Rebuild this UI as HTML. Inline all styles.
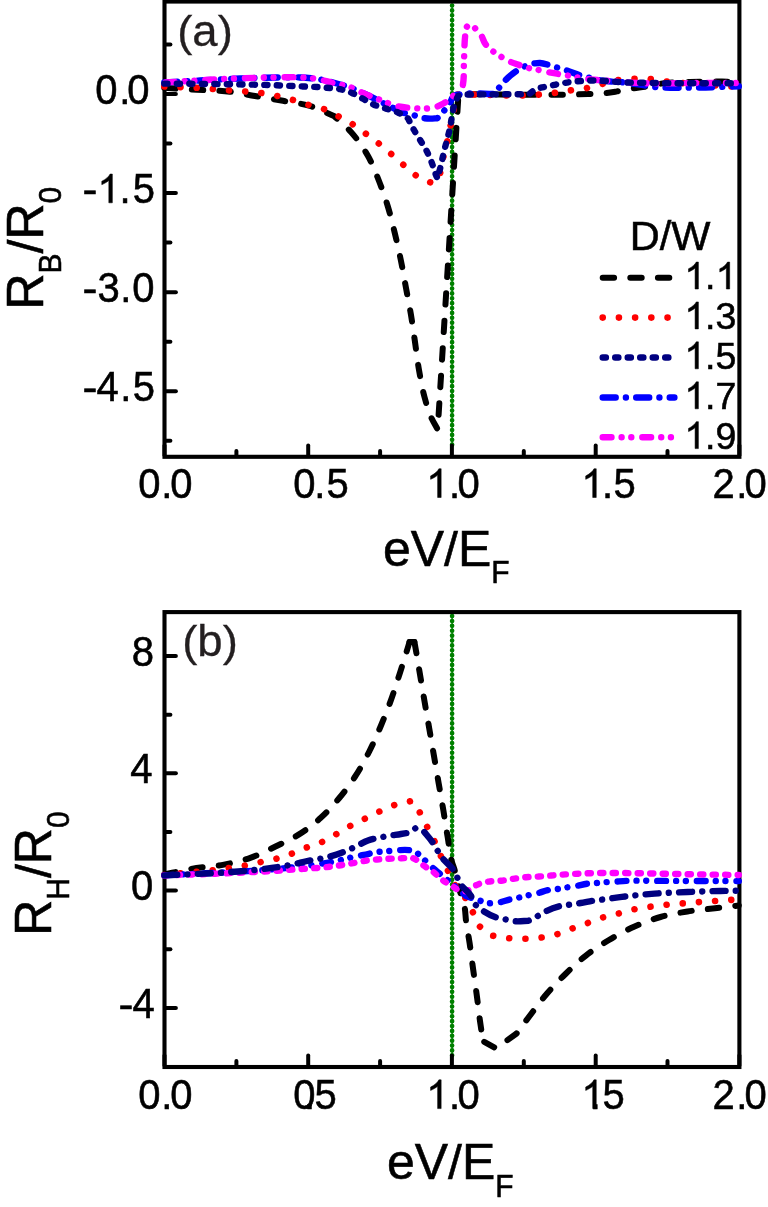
<!DOCTYPE html>
<html><head><meta charset="utf-8"><title>chart</title>
<style>html,body{margin:0;padding:0;background:#fff;}svg{display:block;}text{font-family:"Liberation Sans",sans-serif;}</style></head><body>
<svg width="768" height="1207" viewBox="0 0 768 1207" style="will-change:transform">
<rect width="768" height="1207" fill="#fff"/>
<path d="M452.1 3.5 L452.1 445.3" stroke="#008000" stroke-width="1.4" fill="none"/>
<path d="M452.1 5.5 L452.1 445.3" stroke="#008000" stroke-width="4.7" stroke-linecap="round" stroke-dasharray="0.01 4.87" fill="none"/>
<rect x="164.50" y="1.55" width="574.90" height="455.25" fill="none" stroke="#000" stroke-width="4.1"/>
<path d="M166.0 94.0 H175.9" stroke="#000" stroke-width="4.0" stroke-linecap="round"/>
<path d="M166.0 193.1 H175.9" stroke="#000" stroke-width="4.0" stroke-linecap="round"/>
<path d="M166.0 292.2 H175.9" stroke="#000" stroke-width="4.0" stroke-linecap="round"/>
<path d="M166.0 391.2 H175.9" stroke="#000" stroke-width="4.0" stroke-linecap="round"/>
<path d="M166.0 44.5 H170.4" stroke="#000" stroke-width="4.0" stroke-linecap="round"/>
<path d="M166.0 143.6 H170.4" stroke="#000" stroke-width="4.0" stroke-linecap="round"/>
<path d="M166.0 242.6 H170.4" stroke="#000" stroke-width="4.0" stroke-linecap="round"/>
<path d="M166.0 341.7 H170.4" stroke="#000" stroke-width="4.0" stroke-linecap="round"/>
<path d="M166.0 440.7 H170.4" stroke="#000" stroke-width="4.0" stroke-linecap="round"/>
<path d="M164.5 455.3 V445.4" stroke="#000" stroke-width="4.0" stroke-linecap="round"/>
<path d="M236.4 455.3 V450.9" stroke="#000" stroke-width="4.0" stroke-linecap="round"/>
<path d="M308.2 455.3 V445.4" stroke="#000" stroke-width="4.0" stroke-linecap="round"/>
<path d="M380.1 455.3 V450.9" stroke="#000" stroke-width="4.0" stroke-linecap="round"/>
<path d="M451.9 455.3 V445.4" stroke="#000" stroke-width="4.0" stroke-linecap="round"/>
<path d="M523.8 455.3 V450.9" stroke="#000" stroke-width="4.0" stroke-linecap="round"/>
<path d="M595.7 455.3 V445.4" stroke="#000" stroke-width="4.0" stroke-linecap="round"/>
<path d="M667.5 455.3 V450.9" stroke="#000" stroke-width="4.0" stroke-linecap="round"/>
<path d="M739.4 455.3 V445.4" stroke="#000" stroke-width="4.0" stroke-linecap="round"/>
<path d="M164.30 87.80 C173.20 88.37 182.10 88.96 191.00 89.50 C204.00 90.29 217.08 90.07 230.00 91.70 C238.39 92.76 246.67 94.57 255.00 96.00 C264.33 97.60 273.68 99.10 283.00 100.80 C292.02 102.44 301.23 103.33 310.00 106.00 C318.29 108.52 326.00 112.67 334.00 116.00 C339.67 121.33 345.83 126.19 351.00 132.00 C357.52 139.32 363.20 147.45 368.00 156.00 C372.46 163.94 375.67 172.53 379.00 181.00 C382.35 189.54 385.34 198.22 388.00 207.00 C390.69 215.90 392.83 224.96 395.00 234.00 C397.16 242.96 399.16 251.97 401.00 261.00 C402.83 269.97 404.33 279.00 406.00 288.00 C407.67 297.00 409.50 305.97 411.00 315.00 C412.49 323.97 413.69 333.00 415.00 342.00 C416.36 351.33 417.39 360.71 419.00 370.00 C420.57 379.05 422.09 388.14 424.50 397.00 C426.34 403.76 428.14 410.60 431.00 417.00 C432.93 421.32 435.47 425.33 437.70 429.50 C441.67 365.53 445.63 301.57 449.60 237.60 C452.56 189.83 455.53 142.07 458.50 94.30 C501.67 94.20 544.87 95.76 588.00 94.00 C593.80 93.76 599.63 93.84 605.40 93.20 C609.29 92.77 613.14 92.06 617.00 91.40 C621.68 90.59 626.31 89.49 631.00 88.70 C636.64 87.74 642.37 87.31 648.00 86.30 C652.02 85.58 655.97 84.46 660.00 83.80 C669.88 82.17 679.99 82.39 690.00 82.00 C700.66 81.59 711.33 81.35 722.00 81.50 C727.60 81.58 733.20 81.83 738.80 82.00" fill="none" stroke="#000000" stroke-width="6.0" stroke-dasharray="11.4 16.2" stroke-dashoffset="0" stroke-linecap="round" stroke-linejoin="round"/>
<path d="M164.30 86.50 C169.87 86.73 175.43 86.98 181.00 87.20 C186.17 87.41 191.34 87.52 196.50 87.80 C202.14 88.11 207.77 88.55 213.40 89.00 C218.60 89.42 223.80 89.95 229.00 90.40 C239.83 91.34 250.75 91.38 261.50 93.00 C272.14 94.60 282.65 97.09 293.00 100.00 C298.38 101.51 303.64 103.41 309.00 105.00 C314.18 106.54 319.56 107.45 324.60 109.40 C329.49 111.29 334.07 113.94 338.70 116.40 C343.68 119.05 348.66 121.74 353.40 124.80 C357.64 127.53 361.64 130.61 365.70 133.60 C369.98 136.74 374.25 139.89 378.40 143.20 C382.41 146.40 386.32 149.74 390.20 153.10 C394.29 156.64 398.22 160.35 402.30 163.90 C406.62 167.66 410.60 171.88 415.40 175.00 C420.12 178.07 425.08 181.27 430.60 182.40 C432.05 182.70 433.53 182.80 435.00 183.00 C436.47 180.33 438.21 177.80 439.40 175.00 C441.53 169.97 441.65 164.31 442.90 159.00 C444.06 154.08 445.46 149.22 446.60 144.30 C447.85 138.89 448.85 133.43 450.00 128.00 C451.12 122.70 452.46 117.44 453.40 112.10 C454.16 107.75 453.98 103.21 455.30 99.00 C455.78 97.47 456.43 96.00 457.00 94.50 C488.83 94.07 520.96 97.52 552.50 93.20 C557.98 92.45 563.42 91.39 568.90 90.60 C574.26 89.83 579.69 89.54 585.00 88.50 C590.07 87.51 595.00 85.91 600.00 84.60 C605.34 83.21 610.57 81.35 616.00 80.40 C621.60 79.42 627.32 79.14 633.00 78.90 C638.13 78.69 643.28 78.51 648.40 78.90 C653.65 79.30 658.78 80.64 664.00 81.30 C669.32 81.98 674.66 82.45 680.00 82.90 C685.53 83.36 691.07 83.62 696.60 84.00 C707.40 84.73 718.18 85.95 729.00 86.30 C732.27 86.40 735.53 86.43 738.80 86.50" fill="none" stroke="#ff0000" stroke-width="6.6" stroke-dasharray="0.01 16.2" stroke-dashoffset="0" stroke-linecap="round" stroke-linejoin="round"/>
<path d="M164.30 82.50 C176.20 81.83 188.10 81.13 200.00 80.50 C213.33 79.79 226.66 79.00 240.00 78.50 C253.33 78.00 266.66 77.61 280.00 77.50 C286.67 77.44 293.34 77.17 300.00 77.50 C306.69 77.83 313.40 78.35 320.00 79.50 C325.06 80.38 330.04 81.68 335.00 83.00 C340.04 84.34 345.09 85.72 350.00 87.50 C355.12 89.36 360.05 91.72 365.00 94.00 C370.67 96.62 376.20 99.53 381.80 102.30 C385.37 104.07 388.95 105.80 392.50 107.60 C395.34 109.04 398.02 110.87 401.00 112.00 C404.52 113.33 408.40 113.41 412.00 114.50 C414.71 115.32 417.25 116.72 420.00 117.40 C423.26 118.21 426.64 118.53 430.00 118.60 C432.47 118.65 434.93 118.33 437.40 118.20 C438.93 116.43 440.43 114.63 442.00 112.90 C444.25 110.42 446.67 108.10 449.00 105.70 L452.00 98.40 L456.00 95.00 C457.33 94.77 458.66 94.51 460.00 94.30 C471.85 92.43 484.00 94.10 496.00 94.00 C496.60 92.60 497.09 91.15 497.80 89.80 C499.33 86.90 501.61 84.44 503.80 82.00 C507.61 77.74 512.02 73.94 516.80 70.80 C519.29 69.16 521.87 67.60 524.60 66.40 C527.91 64.95 531.41 63.78 535.00 63.30 C536.66 63.08 538.33 62.94 540.00 63.00 C543.21 63.11 546.30 64.26 549.40 65.10 C552.20 65.86 554.93 66.85 557.70 67.70 C560.56 68.58 563.45 69.37 566.30 70.30 C571.12 71.87 575.75 74.03 580.60 75.50 C583.87 76.49 587.19 77.25 590.50 78.10 C593.30 78.82 596.07 79.62 598.90 80.20 C606.57 81.78 614.52 81.42 622.30 82.30 C628.21 82.97 634.12 83.69 640.00 84.60 C643.34 85.12 646.65 85.81 650.00 86.30 C666.50 88.69 683.33 87.62 700.00 87.50 C712.94 87.41 725.87 86.70 738.80 86.30" fill="none" stroke="#0000ff" stroke-width="6.4" stroke-dasharray="13 10.2 0.01 10.3" stroke-dashoffset="0" stroke-linecap="round" stroke-linejoin="round"/>
<path d="M164.30 82.50 C176.20 81.77 188.10 80.97 200.00 80.30 C213.33 79.55 226.66 78.80 240.00 78.30 C253.33 77.80 266.66 77.41 280.00 77.30 C286.67 77.24 293.34 76.94 300.00 77.30 C306.70 77.67 313.44 78.09 320.00 79.50 C323.38 80.22 326.66 81.33 330.00 82.20 C336.64 83.92 343.55 84.67 350.00 87.00 C355.19 88.88 359.92 91.84 365.00 94.00 C369.93 96.10 375.01 97.85 380.00 99.80 C385.01 101.75 389.81 104.30 395.00 105.70 C401.49 107.45 408.30 107.74 415.00 108.20 C418.33 108.43 421.67 108.70 425.00 108.60 C428.35 108.50 431.67 107.93 435.00 107.60 C437.67 106.30 440.40 105.12 443.00 103.70 C445.74 102.20 448.33 100.43 451.00 98.80 L454.00 95.00 C455.33 94.73 456.70 94.60 458.00 94.20 C459.03 93.88 460.00 93.40 461.00 93.00" fill="none" stroke="#ff00ff" stroke-width="6.4" stroke-dasharray="8.8 10.1 0.01 9.7 0.01 11" stroke-dashoffset="-1.5" stroke-linecap="round" stroke-linejoin="round"/>
<path d="M461.00 93.00 C461.57 90.67 462.23 88.35 462.70 86.00 C464.40 77.49 463.55 68.67 464.00 60.00 C464.45 51.33 464.25 42.60 465.40 34.00 C465.69 31.83 466.07 29.67 466.40 27.50 L467.60 25.80 L472.60 25.80 C473.27 26.47 473.94 27.13 474.60 27.80 C476.57 29.80 478.73 31.64 480.40 33.90 C482.70 37.02 483.22 41.24 485.60 44.30 C487.10 46.23 488.95 47.89 490.80 49.50 C493.63 51.97 496.83 53.98 500.00 56.00 C502.92 57.86 505.86 59.73 509.00 61.20 C511.90 62.56 514.98 63.51 518.00 64.60 C520.98 65.68 523.94 66.86 527.00 67.70 C530.51 68.66 534.14 69.06 537.70 69.80 C541.61 70.62 545.48 71.63 549.40 72.40 C552.85 73.08 556.33 73.61 559.80 74.20 C562.40 74.64 565.01 75.03 567.60 75.50 C571.08 76.13 574.52 77.00 578.00 77.60 C582.31 78.35 586.65 78.91 591.00 79.40 C596.22 79.99 601.47 80.27 606.70 80.70 C611.90 81.13 617.09 81.63 622.30 82.00 C628.19 82.42 634.10 82.74 640.00 83.00 C659.98 83.87 680.00 83.00 700.00 83.00 C712.93 83.00 725.87 83.00 738.80 83.00" fill="none" stroke="#ff00ff" stroke-width="6.4" stroke-dasharray="8.8 10.1 0.01 9.7 0.01 11" stroke-dashoffset="31.3" stroke-linecap="round" stroke-linejoin="round"/>
<path d="M164.30 83.60 C176.20 83.70 188.10 83.77 200.00 83.90 C212.87 84.04 225.73 84.18 238.60 84.40 C248.40 84.57 258.20 84.70 268.00 85.00 C277.67 85.30 287.34 85.75 297.00 86.20 C306.84 86.65 316.70 86.80 326.50 87.70 C331.01 88.12 335.57 88.25 340.00 89.20 C344.10 90.08 348.13 91.38 352.00 93.00 C355.82 94.60 359.34 96.85 363.00 98.80 C366.67 100.75 370.17 103.07 374.00 104.70 C377.87 106.35 382.00 107.30 386.00 108.60 C390.00 109.90 394.17 110.75 398.00 112.50 C401.52 114.11 404.67 116.43 408.00 118.40 C410.00 122.27 411.85 126.21 414.00 130.00 C415.89 133.33 418.02 136.52 420.00 139.80 C422.36 143.72 424.94 147.52 427.00 151.60 C428.91 155.39 430.48 159.34 432.00 163.30 C433.48 167.15 434.44 171.18 436.00 175.00 C436.48 176.18 437.00 177.33 437.50 178.50 C438.67 174.00 439.91 169.52 441.00 165.00 C442.07 160.55 442.92 156.05 444.00 151.60 C444.94 147.72 446.02 143.87 447.00 140.00 C448.02 136.00 449.15 132.04 450.00 128.00 C450.81 124.16 451.25 120.25 452.00 116.40 C452.89 111.81 453.39 107.09 455.00 102.70 C455.84 100.40 457.00 98.23 458.00 96.00 L462.00 94.50 L529.00 94.20 L534.80 89.60 C536.53 89.03 538.24 88.38 540.00 87.90 C542.20 87.30 544.47 86.97 546.70 86.50 C550.72 85.66 554.72 84.76 558.75 84.00 C562.90 83.22 567.06 82.43 571.25 81.90 C575.40 81.37 579.57 81.03 583.75 80.80 C587.91 80.57 592.08 80.43 596.25 80.50 C600.61 80.58 604.95 81.00 609.30 81.30 C613.64 81.60 617.96 82.04 622.30 82.30 C631.52 82.85 640.77 82.74 650.00 82.90 C679.60 83.42 709.20 83.17 738.80 83.30" fill="none" stroke="#000080" stroke-width="6.4" stroke-dasharray="3.2 9.3" stroke-dashoffset="0" stroke-linecap="round" stroke-linejoin="round"/>
<text transform="translate(95.34 103.70) scale(1.000 1.060)" font-size="40.00" fill="#000" stroke="#000" stroke-width="0.55">0</text>
<text transform="translate(119.25 103.70) scale(1.000 1.060)" font-size="40.00" fill="#000" stroke="#000" stroke-width="0.55">.</text>
<text transform="translate(127.24 103.70) scale(1.000 1.060)" font-size="40.00" fill="#000" stroke="#000" stroke-width="0.55">0</text>
<text transform="translate(82.51 203.80) scale(1.120 1.060)" font-size="40.00" fill="#000" stroke="#000" stroke-width="0.55">-</text>
<path d="M763 0H583V1147Q518 1085 412.5 1023T223 930V1104Q374 1175 487 1276T647 1472H763Z" transform="translate(97.44 202.80) scale(0.01953 -0.01953)" fill="#000" stroke="#000" stroke-width="27"/>
<text transform="translate(119.55 202.80) scale(1.000 1.060)" font-size="40.00" fill="#000" stroke="#000" stroke-width="0.55">.</text>
<text transform="translate(132.70 202.80) scale(1.000 1.060)" font-size="40.00" fill="#000" stroke="#000" stroke-width="0.55">5</text>
<text transform="translate(82.51 302.90) scale(1.120 1.060)" font-size="40.00" fill="#000" stroke="#000" stroke-width="0.55">-</text>
<text transform="translate(97.38 301.90) scale(1.000 1.060)" font-size="40.00" fill="#000" stroke="#000" stroke-width="0.55">3</text>
<text transform="translate(120.15 301.90) scale(1.000 1.060)" font-size="40.00" fill="#000" stroke="#000" stroke-width="0.55">.</text>
<text transform="translate(132.14 301.90) scale(1.000 1.060)" font-size="40.00" fill="#000" stroke="#000" stroke-width="0.55">0</text>
<text transform="translate(82.51 401.90) scale(1.120 1.060)" font-size="40.00" fill="#000" stroke="#000" stroke-width="0.55">-</text>
<text transform="translate(96.48 400.90) scale(1.000 1.060)" font-size="40.00" fill="#000" stroke="#000" stroke-width="0.55">4</text>
<text transform="translate(120.15 400.90) scale(1.000 1.060)" font-size="40.00" fill="#000" stroke="#000" stroke-width="0.55">.</text>
<text transform="translate(132.70 400.90) scale(1.000 1.060)" font-size="40.00" fill="#000" stroke="#000" stroke-width="0.55">5</text>
<text transform="translate(138.24 497.50) scale(1.000 1.060)" font-size="40.00" fill="#000" stroke="#000" stroke-width="0.55">0</text>
<text transform="translate(161.25 497.50) scale(1.000 1.060)" font-size="40.00" fill="#000" stroke="#000" stroke-width="0.55">.</text>
<text transform="translate(170.34 497.50) scale(1.000 1.060)" font-size="40.00" fill="#000" stroke="#000" stroke-width="0.55">0</text>
<text transform="translate(293.34 497.50) scale(1.000 1.060)" font-size="40.00" fill="#000" stroke="#000" stroke-width="0.55">0</text>
<text transform="translate(314.15 497.50) scale(1.000 1.060)" font-size="40.00" fill="#000" stroke="#000" stroke-width="0.55">.</text>
<text transform="translate(326.60 497.50) scale(1.000 1.060)" font-size="40.00" fill="#000" stroke="#000" stroke-width="0.55">5</text>
<path d="M763 0H583V1147Q518 1085 412.5 1023T223 930V1104Q374 1175 487 1276T647 1472H763Z" transform="translate(426.24 497.50) scale(0.01953 -0.01953)" fill="#000" stroke="#000" stroke-width="27"/>
<text transform="translate(449.05 497.50) scale(1.000 1.060)" font-size="40.00" fill="#000" stroke="#000" stroke-width="0.55">.</text>
<text transform="translate(457.54 497.50) scale(1.000 1.060)" font-size="40.00" fill="#000" stroke="#000" stroke-width="0.55">0</text>
<path d="M763 0H583V1147Q518 1085 412.5 1023T223 930V1104Q374 1175 487 1276T647 1472H763Z" transform="translate(581.34 497.50) scale(0.01953 -0.01953)" fill="#000" stroke="#000" stroke-width="27"/>
<text transform="translate(602.05 497.50) scale(1.000 1.060)" font-size="40.00" fill="#000" stroke="#000" stroke-width="0.55">.</text>
<text transform="translate(613.50 497.50) scale(1.000 1.060)" font-size="40.00" fill="#000" stroke="#000" stroke-width="0.55">5</text>
<text transform="translate(712.59 497.50) scale(1.000 1.060)" font-size="40.00" fill="#000" stroke="#000" stroke-width="0.55">2</text>
<text transform="translate(736.15 497.50) scale(1.000 1.060)" font-size="40.00" fill="#000" stroke="#000" stroke-width="0.55">.</text>
<text transform="translate(744.44 497.50) scale(1.000 1.060)" font-size="40.00" fill="#000" stroke="#000" stroke-width="0.55">0</text>
<path d="M452.1 614.1 L452.1 1055.5" stroke="#008000" stroke-width="1.4" fill="none"/>
<path d="M452.1 616.1 L452.1 1055.5" stroke="#008000" stroke-width="4.7" stroke-linecap="round" stroke-dasharray="0.01 4.87" fill="none"/>
<rect x="164.50" y="612.10" width="574.90" height="454.90" fill="none" stroke="#000" stroke-width="4.1"/>
<path d="M166.0 656.0 H175.9" stroke="#000" stroke-width="4.0" stroke-linecap="round"/>
<path d="M166.0 773.3 H175.9" stroke="#000" stroke-width="4.0" stroke-linecap="round"/>
<path d="M166.0 890.5 H175.9" stroke="#000" stroke-width="4.0" stroke-linecap="round"/>
<path d="M166.0 1007.9 H175.9" stroke="#000" stroke-width="4.0" stroke-linecap="round"/>
<path d="M166.0 714.7 H170.4" stroke="#000" stroke-width="4.0" stroke-linecap="round"/>
<path d="M166.0 831.9 H170.4" stroke="#000" stroke-width="4.0" stroke-linecap="round"/>
<path d="M166.0 949.2 H170.4" stroke="#000" stroke-width="4.0" stroke-linecap="round"/>
<path d="M164.5 1065.5 V1055.6" stroke="#000" stroke-width="4.0" stroke-linecap="round"/>
<path d="M236.4 1065.5 V1061.1" stroke="#000" stroke-width="4.0" stroke-linecap="round"/>
<path d="M308.2 1065.5 V1055.6" stroke="#000" stroke-width="4.0" stroke-linecap="round"/>
<path d="M380.1 1065.5 V1061.1" stroke="#000" stroke-width="4.0" stroke-linecap="round"/>
<path d="M451.9 1065.5 V1055.6" stroke="#000" stroke-width="4.0" stroke-linecap="round"/>
<path d="M523.8 1065.5 V1061.1" stroke="#000" stroke-width="4.0" stroke-linecap="round"/>
<path d="M595.7 1065.5 V1055.6" stroke="#000" stroke-width="4.0" stroke-linecap="round"/>
<path d="M667.5 1065.5 V1061.1" stroke="#000" stroke-width="4.0" stroke-linecap="round"/>
<path d="M739.4 1065.5 V1055.6" stroke="#000" stroke-width="4.0" stroke-linecap="round"/>
<path d="M164.30 874.50 C173.20 872.63 182.04 870.46 191.00 868.90 C201.93 867.00 213.12 866.77 224.00 864.60 C233.12 862.78 242.24 860.71 251.00 857.60 C259.27 854.67 267.10 850.61 275.00 846.80 C283.11 842.89 291.38 839.20 299.00 834.40 C306.61 829.60 313.82 824.12 320.50 818.10 C327.32 811.96 333.44 805.06 339.30 798.00 C345.32 790.75 350.92 783.13 356.00 775.20 C360.98 767.42 365.35 759.25 369.50 751.00 C373.69 742.67 377.38 734.09 381.00 725.50 C384.54 717.08 387.90 708.59 391.00 700.00 C394.18 691.19 396.94 682.22 399.80 673.30 C402.50 664.89 405.14 656.46 407.70 648.00 C408.30 646.00 408.90 644.00 409.50 642.00" fill="none" stroke="#000000" stroke-width="6.0" stroke-dasharray="11.4 16.2" stroke-dashoffset="0" stroke-linecap="round" stroke-linejoin="round"/>
<path d="M409.50 642.00 L414.40 642.00" fill="none" stroke="#000000" stroke-width="6.0" stroke-dasharray="none" stroke-dashoffset="0" stroke-linecap="round" stroke-linejoin="round"/>
<path d="M414.40 642.00 C414.80 644.17 415.21 646.33 415.60 648.50 C417.17 657.15 418.53 665.83 420.00 674.50 C421.53 683.57 423.05 692.64 424.60 701.70 C426.12 710.57 427.67 719.43 429.20 728.30 C430.77 737.40 432.33 746.50 433.90 755.60 C435.50 764.87 437.10 774.13 438.70 783.40 C440.27 792.47 441.89 801.52 443.40 810.60 C444.88 819.49 446.20 828.41 447.70 837.30 C449.14 845.81 449.68 854.54 452.20 862.80 C452.84 864.89 453.64 866.92 454.30 869.00 C456.37 875.55 457.57 882.33 459.20 889.00" fill="none" stroke="#000000" stroke-width="6.0" stroke-dasharray="11.4 16.2" stroke-dashoffset="0.0" stroke-linecap="round" stroke-linejoin="round"/>
<path d="M459.20 889.00 C461.03 895.23 463.57 901.30 464.70 907.70 C465.46 911.99 465.47 916.38 466.00 920.70 C466.91 928.17 468.49 935.55 469.60 943.00 C470.89 951.65 471.91 960.34 473.10 969.00 C474.38 978.34 475.77 987.66 477.00 997.00 C478.05 1004.99 478.89 1013.01 480.00 1021.00 C480.42 1024.00 480.92 1026.99 481.30 1030.00 C481.75 1033.59 482.03 1037.20 482.40 1040.80" fill="none" stroke="#000000" stroke-width="6.0" stroke-dasharray="11.4 16.2" stroke-dashoffset="6.9" stroke-linecap="round" stroke-linejoin="round"/>
<path d="M482.40 1040.80 L496.00 1048.40 L516.60 1033.50 C520.87 1027.77 525.09 1022.00 529.40 1016.30 C535.06 1008.81 540.50 1001.13 546.60 994.00 C552.56 987.03 558.94 980.41 565.50 974.00 C571.96 967.68 578.49 961.39 585.60 955.80 C593.00 949.98 600.93 944.84 609.00 940.00 C617.08 935.16 625.40 930.64 634.00 926.80 C642.60 922.96 651.44 919.57 660.50 917.00 C669.34 914.49 678.43 912.95 687.50 911.50 C696.61 910.04 705.83 909.35 715.00 908.30 C722.93 907.39 730.87 906.50 738.80 905.60" fill="none" stroke="#000000" stroke-width="6.0" stroke-dasharray="11.4 16.2" stroke-dashoffset="25.5" stroke-linecap="round" stroke-linejoin="round"/>
<path d="M164.30 875.00 C185.87 872.70 207.54 871.27 229.00 868.10 C234.48 867.29 239.96 866.53 245.40 865.50 C250.83 864.47 256.20 863.09 261.60 861.90 C266.80 860.76 272.07 859.91 277.20 858.50 C282.49 857.05 287.67 855.22 292.80 853.30 C298.08 851.33 303.15 848.83 308.40 846.80 C313.16 844.96 318.15 843.70 322.80 841.60 C327.73 839.38 332.30 836.43 337.00 833.75 C341.87 830.97 346.55 827.84 351.50 825.20 C356.23 822.67 361.17 820.55 366.00 818.20 C371.24 815.65 376.38 812.89 381.70 810.50 C386.66 808.27 391.61 805.93 396.80 804.30 C401.85 802.71 407.13 801.97 412.30 800.80 C414.70 804.50 417.27 808.10 419.50 811.90 C422.23 816.56 424.44 821.50 426.90 826.30 C429.47 831.33 432.22 836.28 434.60 841.40 C436.83 846.19 438.62 851.18 440.80 856.00 C443.02 860.89 445.43 865.68 447.80 870.50 C450.23 875.45 452.16 880.70 455.20 885.30 C457.94 889.45 461.91 892.69 464.70 896.80 C467.84 901.43 470.15 906.58 472.60 911.60 C474.89 916.29 476.87 921.13 479.00 925.90 L492.00 935.60 C497.40 936.47 502.76 937.69 508.20 938.20 C513.45 938.70 518.73 938.77 524.00 938.70 C529.44 938.62 534.90 938.42 540.30 937.70 C545.56 937.00 550.79 935.95 555.90 934.50 C561.41 932.94 566.61 930.44 572.00 928.50 C576.98 926.71 582.02 925.10 587.00 923.30 C592.09 921.46 597.03 919.20 602.20 917.60 C607.38 915.99 612.75 915.06 618.00 913.70 C623.42 912.30 628.73 910.48 634.20 909.30 C639.51 908.16 644.92 907.46 650.30 906.70 C655.62 905.95 660.96 905.30 666.30 904.75 C671.76 904.19 677.23 903.84 682.70 903.40 C688.10 902.96 693.50 902.50 698.90 902.10 C704.23 901.70 709.57 901.37 714.90 901.00 C720.20 900.63 725.50 900.20 730.80 899.90 C733.47 899.75 736.13 899.63 738.80 899.50" fill="none" stroke="#ff0000" stroke-width="6.6" stroke-dasharray="0.01 16.2" stroke-dashoffset="0" stroke-linecap="round" stroke-linejoin="round"/>
<path d="M164.30 875.40 C206.20 872.80 248.28 872.24 290.00 867.60 C300.52 866.43 311.06 865.41 321.50 863.70 C327.59 862.70 333.68 861.67 339.70 860.30 C343.29 859.48 346.82 858.42 350.40 857.60 C354.81 856.59 359.27 855.80 363.70 854.90 C368.80 853.87 373.83 852.43 379.00 851.80 C382.22 851.41 385.47 851.37 388.70 851.10 C391.80 850.84 394.89 850.37 398.00 850.20 C401.83 850.00 405.71 849.62 409.50 850.20 C411.71 850.54 413.83 851.27 416.00 851.80 C418.47 854.13 420.97 856.43 423.40 858.80 C425.36 860.71 427.21 862.72 429.20 864.60 C432.19 867.43 435.36 870.04 438.50 872.70 C440.81 874.66 443.14 876.59 445.50 878.50 C447.42 880.05 449.41 881.51 451.30 883.10 C452.76 884.33 454.16 885.64 455.60 886.90 C459.06 889.95 462.53 892.97 466.00 896.00 C470.33 897.47 474.63 899.04 479.00 900.40 C482.31 901.43 485.67 902.33 489.00 903.30 C492.20 903.03 495.43 903.01 498.60 902.50 C502.58 901.85 506.37 900.30 510.30 899.40 C512.85 898.81 515.44 898.38 518.00 897.80 C521.08 897.10 524.12 896.22 527.20 895.50 C530.42 894.75 533.69 894.19 536.90 893.40 C540.94 892.41 544.81 890.75 548.90 890.00 C551.80 889.47 554.78 889.42 557.70 889.00 C560.75 888.56 563.76 887.90 566.80 887.40 C569.66 886.93 572.54 886.59 575.40 886.10 C579.29 885.43 583.09 884.27 587.00 883.75 C590.07 883.34 593.17 883.26 596.25 883.00 C599.30 882.74 602.35 882.42 605.40 882.20 C608.26 881.99 611.13 881.88 614.00 881.70 C618.07 881.45 622.13 881.10 626.20 880.90 C637.45 880.36 648.73 880.89 660.00 880.90 C686.27 880.92 712.53 881.03 738.80 881.10" fill="none" stroke="#0000ff" stroke-width="6.4" stroke-dasharray="8.8 10.1 0.01 9.7 0.01 11" stroke-dashoffset="0" stroke-linecap="round" stroke-linejoin="round"/>
<path d="M164.30 875.40 C188.87 874.53 213.45 873.96 238.00 872.80 C251.00 872.18 264.01 871.52 277.00 870.70 C285.67 870.15 294.34 869.53 303.00 868.90 C310.90 868.33 318.83 867.98 326.70 867.10 C331.91 866.52 337.12 865.82 342.30 865.00 C345.41 864.51 348.51 863.97 351.60 863.40 C355.48 862.69 359.31 861.72 363.20 861.10 C367.77 860.37 372.39 859.89 377.00 859.50 C380.89 859.17 384.80 859.00 388.70 858.80 C392.93 858.59 397.17 858.53 401.40 858.30 C404.90 858.11 408.40 857.83 411.90 857.60 C413.43 858.37 415.04 859.00 416.50 859.90 C418.62 861.21 420.31 863.10 422.30 864.60 C425.62 867.10 429.39 868.98 432.70 871.50 C435.97 873.99 438.72 877.12 442.00 879.60 C445.60 882.32 449.56 884.53 453.40 886.90 C455.26 888.05 456.97 889.48 459.00 890.30 C460.60 890.94 462.33 891.17 464.00 891.60 C465.67 891.07 467.40 890.71 469.00 890.00 C471.68 888.82 473.68 886.41 476.30 885.10 C480.11 883.19 484.40 882.34 488.60 881.60 C492.85 880.85 497.22 881.20 501.50 880.70 C505.42 880.24 509.29 879.36 513.20 878.80 C517.46 878.19 521.72 877.58 526.00 877.20 C530.32 876.81 534.67 876.78 539.00 876.50 C546.81 876.00 554.59 875.12 562.40 874.60 C571.06 874.03 579.73 873.57 588.40 873.30 C597.10 873.03 605.80 873.00 614.50 873.00 C623.00 873.00 631.50 873.17 640.00 873.30 C650.00 873.46 660.00 873.71 670.00 873.90 C692.93 874.33 715.87 874.63 738.80 875.00" fill="none" stroke="#ff00ff" stroke-width="6.4" stroke-dasharray="3.2 9.3" stroke-dashoffset="0" stroke-linecap="round" stroke-linejoin="round"/>
<path d="M164.30 875.40 C188.87 874.10 213.49 873.65 238.00 871.50 C246.68 870.74 255.36 869.98 264.00 868.90 C272.70 867.81 281.39 866.64 290.00 865.00 C297.05 863.66 303.95 861.63 311.00 860.30 C314.49 859.64 318.02 859.23 321.50 858.50 C328.56 857.02 335.56 855.07 342.30 852.50 C345.83 851.15 349.26 849.57 352.70 848.00 C357.87 845.65 362.65 842.41 368.00 840.50 C373.16 838.66 378.62 837.77 384.00 836.70 C389.63 835.58 395.34 834.91 401.00 834.00 C403.47 833.60 405.93 833.20 408.40 832.80 L416.00 827.90 L423.40 830.90 C426.50 834.77 429.95 838.38 432.70 842.50 C434.21 844.76 435.48 847.18 436.90 849.50 C438.57 852.22 440.13 855.01 442.00 857.60 C445.36 862.25 450.61 865.41 453.60 870.30 C454.74 872.16 455.62 874.15 456.60 876.10 C457.94 878.78 458.93 881.65 460.50 884.20 C463.24 888.64 468.41 891.28 471.00 895.80 C472.44 898.31 473.27 901.13 474.40 903.80 C477.27 906.13 479.93 908.75 483.00 910.80 C487.03 913.49 491.39 915.80 496.00 917.30 C499.11 918.32 502.39 918.75 505.60 919.40 C508.89 920.07 512.16 920.96 515.50 921.25 C519.82 921.62 524.17 920.88 528.50 920.70 C531.57 919.13 534.67 917.64 537.70 916.00 C540.77 914.34 543.64 912.30 546.80 910.80 C551.75 908.45 557.02 906.64 562.40 905.60 C564.97 905.10 567.60 904.96 570.20 904.60 C573.67 904.12 577.14 903.57 580.60 903.00 C585.41 902.21 590.17 901.08 595.00 900.40 C597.83 900.00 600.67 899.75 603.50 899.40 C609.64 898.64 615.76 897.66 621.90 896.90 C632.81 895.56 643.74 894.42 654.70 893.60 C665.62 892.79 676.56 892.43 687.50 892.00 C698.43 891.57 709.36 891.21 720.30 891.00 C726.47 890.88 732.63 890.83 738.80 890.75" fill="none" stroke="#000080" stroke-width="6.4" stroke-dasharray="13 10.2 0.01 10.3" stroke-dashoffset="0" stroke-linecap="round" stroke-linejoin="round"/>
<text transform="translate(131.66 665.70) scale(1.000 1.060)" font-size="40.00" fill="#000" stroke="#000" stroke-width="0.55">8</text>
<text transform="translate(130.28 783.00) scale(1.000 1.060)" font-size="40.00" fill="#000" stroke="#000" stroke-width="0.55">4</text>
<text transform="translate(131.04 900.20) scale(1.000 1.060)" font-size="40.00" fill="#000" stroke="#000" stroke-width="0.55">0</text>
<text transform="translate(118.41 1018.60) scale(1.120 1.060)" font-size="40.00" fill="#000" stroke="#000" stroke-width="0.55">-</text>
<text transform="translate(132.58 1017.60) scale(1.000 1.060)" font-size="40.00" fill="#000" stroke="#000" stroke-width="0.55">4</text>
<text transform="translate(138.24 1108.60) scale(1.000 1.060)" font-size="40.00" fill="#000" stroke="#000" stroke-width="0.55">0</text>
<text transform="translate(161.25 1108.60) scale(1.000 1.060)" font-size="40.00" fill="#000" stroke="#000" stroke-width="0.55">.</text>
<text transform="translate(170.34 1108.60) scale(1.000 1.060)" font-size="40.00" fill="#000" stroke="#000" stroke-width="0.55">0</text>
<text transform="translate(293.34 1108.60) scale(1.000 1.060)" font-size="40.00" fill="#000" stroke="#000" stroke-width="0.55">0</text>
<text transform="translate(303.95 1108.60) scale(1.000 1.060)" font-size="40.00" fill="#000" stroke="#000" stroke-width="0.55">.</text>
<text transform="translate(314.60 1108.60) scale(1.000 1.060)" font-size="40.00" fill="#000" stroke="#000" stroke-width="0.55">5</text>
<path d="M763 0H583V1147Q518 1085 412.5 1023T223 930V1104Q374 1175 487 1276T647 1472H763Z" transform="translate(426.24 1108.60) scale(0.01953 -0.01953)" fill="#000" stroke="#000" stroke-width="27"/>
<text transform="translate(449.05 1108.60) scale(1.000 1.060)" font-size="40.00" fill="#000" stroke="#000" stroke-width="0.55">.</text>
<text transform="translate(457.54 1108.60) scale(1.000 1.060)" font-size="40.00" fill="#000" stroke="#000" stroke-width="0.55">0</text>
<path d="M763 0H583V1147Q518 1085 412.5 1023T223 930V1104Q374 1175 487 1276T647 1472H763Z" transform="translate(581.34 1108.60) scale(0.01953 -0.01953)" fill="#000" stroke="#000" stroke-width="27"/>
<text transform="translate(589.75 1108.60) scale(1.000 1.060)" font-size="40.00" fill="#000" stroke="#000" stroke-width="0.55">.</text>
<text transform="translate(602.50 1108.60) scale(1.000 1.060)" font-size="40.00" fill="#000" stroke="#000" stroke-width="0.55">5</text>
<text transform="translate(712.59 1108.60) scale(1.000 1.060)" font-size="40.00" fill="#000" stroke="#000" stroke-width="0.55">2</text>
<text transform="translate(736.15 1108.60) scale(1.000 1.060)" font-size="40.00" fill="#000" stroke="#000" stroke-width="0.55">.</text>
<text transform="translate(744.44 1108.60) scale(1.000 1.060)" font-size="40.00" fill="#000" stroke="#000" stroke-width="0.55">0</text>
<text transform="translate(177.18 46.40) scale(1.000 0.945)" font-size="45.50" fill="#231f20" stroke="#231f20" stroke-width="0.30">(</text>
<text transform="translate(192.33 46.40) scale(1.000 0.985)" font-size="45.50" fill="#231f20" stroke="#231f20" stroke-width="0.30">a</text>
<text transform="translate(217.64 46.40) scale(1.000 0.945)" font-size="45.50" fill="#231f20" stroke="#231f20" stroke-width="0.30">)</text>
<text transform="translate(182.18 655.70) scale(1.000 0.945)" font-size="45.50" fill="#231f20" stroke="#231f20" stroke-width="0.30">(</text>
<text transform="translate(197.33 655.70) scale(1.000 0.985)" font-size="45.50" fill="#231f20" stroke="#231f20" stroke-width="0.30">b</text>
<text transform="translate(222.64 655.70) scale(1.000 0.945)" font-size="45.50" fill="#231f20" stroke="#231f20" stroke-width="0.30">)</text>
<text transform="translate(629.70 250.30) scale(1.000 1.000)" font-size="41.50" fill="#000" stroke="#000" stroke-width="0.55">D</text>
<text transform="translate(659.67 250.30) scale(1.000 0.960)" font-size="41.50" fill="#000" stroke="#000" stroke-width="0.55">/</text>
<text transform="translate(671.20 250.30) scale(1.000 1.000)" font-size="41.50" fill="#000" stroke="#000" stroke-width="0.55">W</text>
<path d="M602.70 277.70 L674.40 277.70" fill="none" stroke="#000000" stroke-width="6.0" stroke-dasharray="11.4 16.2" stroke-dashoffset="0" stroke-linecap="round" stroke-linejoin="round"/>
<path d="M763 0H583V1147Q518 1085 412.5 1023T223 930V1104Q374 1175 487 1276T647 1472H763Z" transform="translate(684.42 289.00) scale(0.01831 -0.01831)" fill="#000" stroke="#000" stroke-width="29"/>
<text transform="translate(704.97 289.00) scale(1.000 1.000)" font-size="37.50" fill="#000" stroke="#000" stroke-width="0.55">.</text>
<path d="M763 0H583V1147Q518 1085 412.5 1023T223 930V1104Q374 1175 487 1276T647 1472H763Z" transform="translate(715.69 289.00) scale(0.01831 -0.01831)" fill="#000" stroke="#000" stroke-width="29"/>
<path d="M602.70 317.60 L674.40 317.60" fill="none" stroke="#ff0000" stroke-width="6.6" stroke-dasharray="0.01 16.2" stroke-dashoffset="0" stroke-linecap="round" stroke-linejoin="round"/>
<path d="M763 0H583V1147Q518 1085 412.5 1023T223 930V1104Q374 1175 487 1276T647 1472H763Z" transform="translate(684.42 328.90) scale(0.01831 -0.01831)" fill="#000" stroke="#000" stroke-width="29"/>
<text transform="translate(704.97 328.90) scale(1.000 1.000)" font-size="37.50" fill="#000" stroke="#000" stroke-width="0.55">.</text>
<text transform="translate(715.39 328.90) scale(1.000 1.000)" font-size="37.50" fill="#000" stroke="#000" stroke-width="0.55">3</text>
<path d="M602.70 357.50 L674.40 357.50" fill="none" stroke="#000080" stroke-width="6.4" stroke-dasharray="3.2 9.3" stroke-dashoffset="0" stroke-linecap="round" stroke-linejoin="round"/>
<path d="M763 0H583V1147Q518 1085 412.5 1023T223 930V1104Q374 1175 487 1276T647 1472H763Z" transform="translate(684.42 368.80) scale(0.01831 -0.01831)" fill="#000" stroke="#000" stroke-width="29"/>
<text transform="translate(704.97 368.80) scale(1.000 1.000)" font-size="37.50" fill="#000" stroke="#000" stroke-width="0.55">.</text>
<text transform="translate(715.39 368.80) scale(1.000 1.000)" font-size="37.50" fill="#000" stroke="#000" stroke-width="0.55">5</text>
<path d="M602.70 397.50 L674.40 397.50" fill="none" stroke="#0000ff" stroke-width="6.4" stroke-dasharray="13 10.2 0.01 10.3" stroke-dashoffset="0" stroke-linecap="round" stroke-linejoin="round"/>
<path d="M763 0H583V1147Q518 1085 412.5 1023T223 930V1104Q374 1175 487 1276T647 1472H763Z" transform="translate(684.42 408.80) scale(0.01831 -0.01831)" fill="#000" stroke="#000" stroke-width="29"/>
<text transform="translate(704.97 408.80) scale(1.000 1.000)" font-size="37.50" fill="#000" stroke="#000" stroke-width="0.55">.</text>
<text transform="translate(715.39 408.80) scale(1.000 1.000)" font-size="37.50" fill="#000" stroke="#000" stroke-width="0.55">7</text>
<path d="M602.70 437.30 L674.40 437.30" fill="none" stroke="#ff00ff" stroke-width="6.4" stroke-dasharray="8.8 10.1 0.01 9.7 0.01 11" stroke-dashoffset="0" stroke-linecap="round" stroke-linejoin="round"/>
<path d="M763 0H583V1147Q518 1085 412.5 1023T223 930V1104Q374 1175 487 1276T647 1472H763Z" transform="translate(684.42 448.60) scale(0.01831 -0.01831)" fill="#000" stroke="#000" stroke-width="29"/>
<text transform="translate(704.97 448.60) scale(1.000 1.000)" font-size="37.50" fill="#000" stroke="#000" stroke-width="0.55">.</text>
<text transform="translate(715.39 448.60) scale(1.000 1.000)" font-size="37.50" fill="#000" stroke="#000" stroke-width="0.55">9</text>
<text transform="translate(382.88 565.70) scale(1.000 1.000)" font-size="50.00" fill="#000" stroke="#000" stroke-width="0.55">e</text>
<text transform="translate(410.68 565.70) scale(1.000 1.015)" font-size="50.00" fill="#000" stroke="#000" stroke-width="0.55">V</text>
<text transform="translate(444.03 565.70) scale(1.000 0.970)" font-size="50.00" fill="#000" stroke="#000" stroke-width="0.55">/</text>
<text transform="translate(457.92 565.70) scale(1.000 1.015)" font-size="50.00" fill="#000" stroke="#000" stroke-width="0.55">E</text>
<text transform="translate(491.27 582.70) scale(1.000 1.040)" font-size="30.00" fill="#000" stroke="#000" stroke-width="0.55">F</text>
<text transform="translate(386.88 1179.10) scale(1.000 1.000)" font-size="50.00" fill="#000" stroke="#000" stroke-width="0.55">e</text>
<text transform="translate(414.68 1179.10) scale(1.000 1.015)" font-size="50.00" fill="#000" stroke="#000" stroke-width="0.55">V</text>
<text transform="translate(448.03 1179.10) scale(1.000 0.970)" font-size="50.00" fill="#000" stroke="#000" stroke-width="0.55">/</text>
<text transform="translate(461.92 1179.10) scale(1.000 1.015)" font-size="50.00" fill="#000" stroke="#000" stroke-width="0.55">E</text>
<text transform="translate(495.27 1197.10) scale(1.000 1.040)" font-size="30.00" fill="#000" stroke="#000" stroke-width="0.55">F</text>
<g transform="translate(43.20 309.60) rotate(-90)">
<text transform="translate(0.00 0.00) scale(1.000 1.040)" font-size="50.00" fill="#000" stroke="#000" stroke-width="0.55">R</text>
<text transform="translate(36.11 17.80) scale(1.000 1.040)" font-size="30.00" fill="#000" stroke="#000" stroke-width="0.55">B</text>
<text transform="translate(56.12 0.00) scale(1.000 0.985)" font-size="50.00" fill="#000" stroke="#000" stroke-width="0.55">/</text>
<text transform="translate(70.01 0.00) scale(1.000 1.040)" font-size="50.00" fill="#000" stroke="#000" stroke-width="0.55">R</text>
<text transform="translate(106.12 17.80) scale(1.000 1.040)" font-size="30.00" fill="#000" stroke="#000" stroke-width="0.55">0</text>
</g>
<g transform="translate(51.10 935.80) rotate(-90)">
<text transform="translate(0.00 0.00) scale(1.000 1.040)" font-size="50.00" fill="#000" stroke="#000" stroke-width="0.55">R</text>
<text transform="translate(36.11 17.80) scale(1.000 1.040)" font-size="30.00" fill="#000" stroke="#000" stroke-width="0.55">H</text>
<text transform="translate(57.77 0.00) scale(1.000 0.985)" font-size="50.00" fill="#000" stroke="#000" stroke-width="0.55">/</text>
<text transform="translate(71.67 0.00) scale(1.000 1.040)" font-size="50.00" fill="#000" stroke="#000" stroke-width="0.55">R</text>
<text transform="translate(107.77 17.80) scale(1.000 1.040)" font-size="30.00" fill="#000" stroke="#000" stroke-width="0.55">0</text>
</g>
</svg></body></html>
